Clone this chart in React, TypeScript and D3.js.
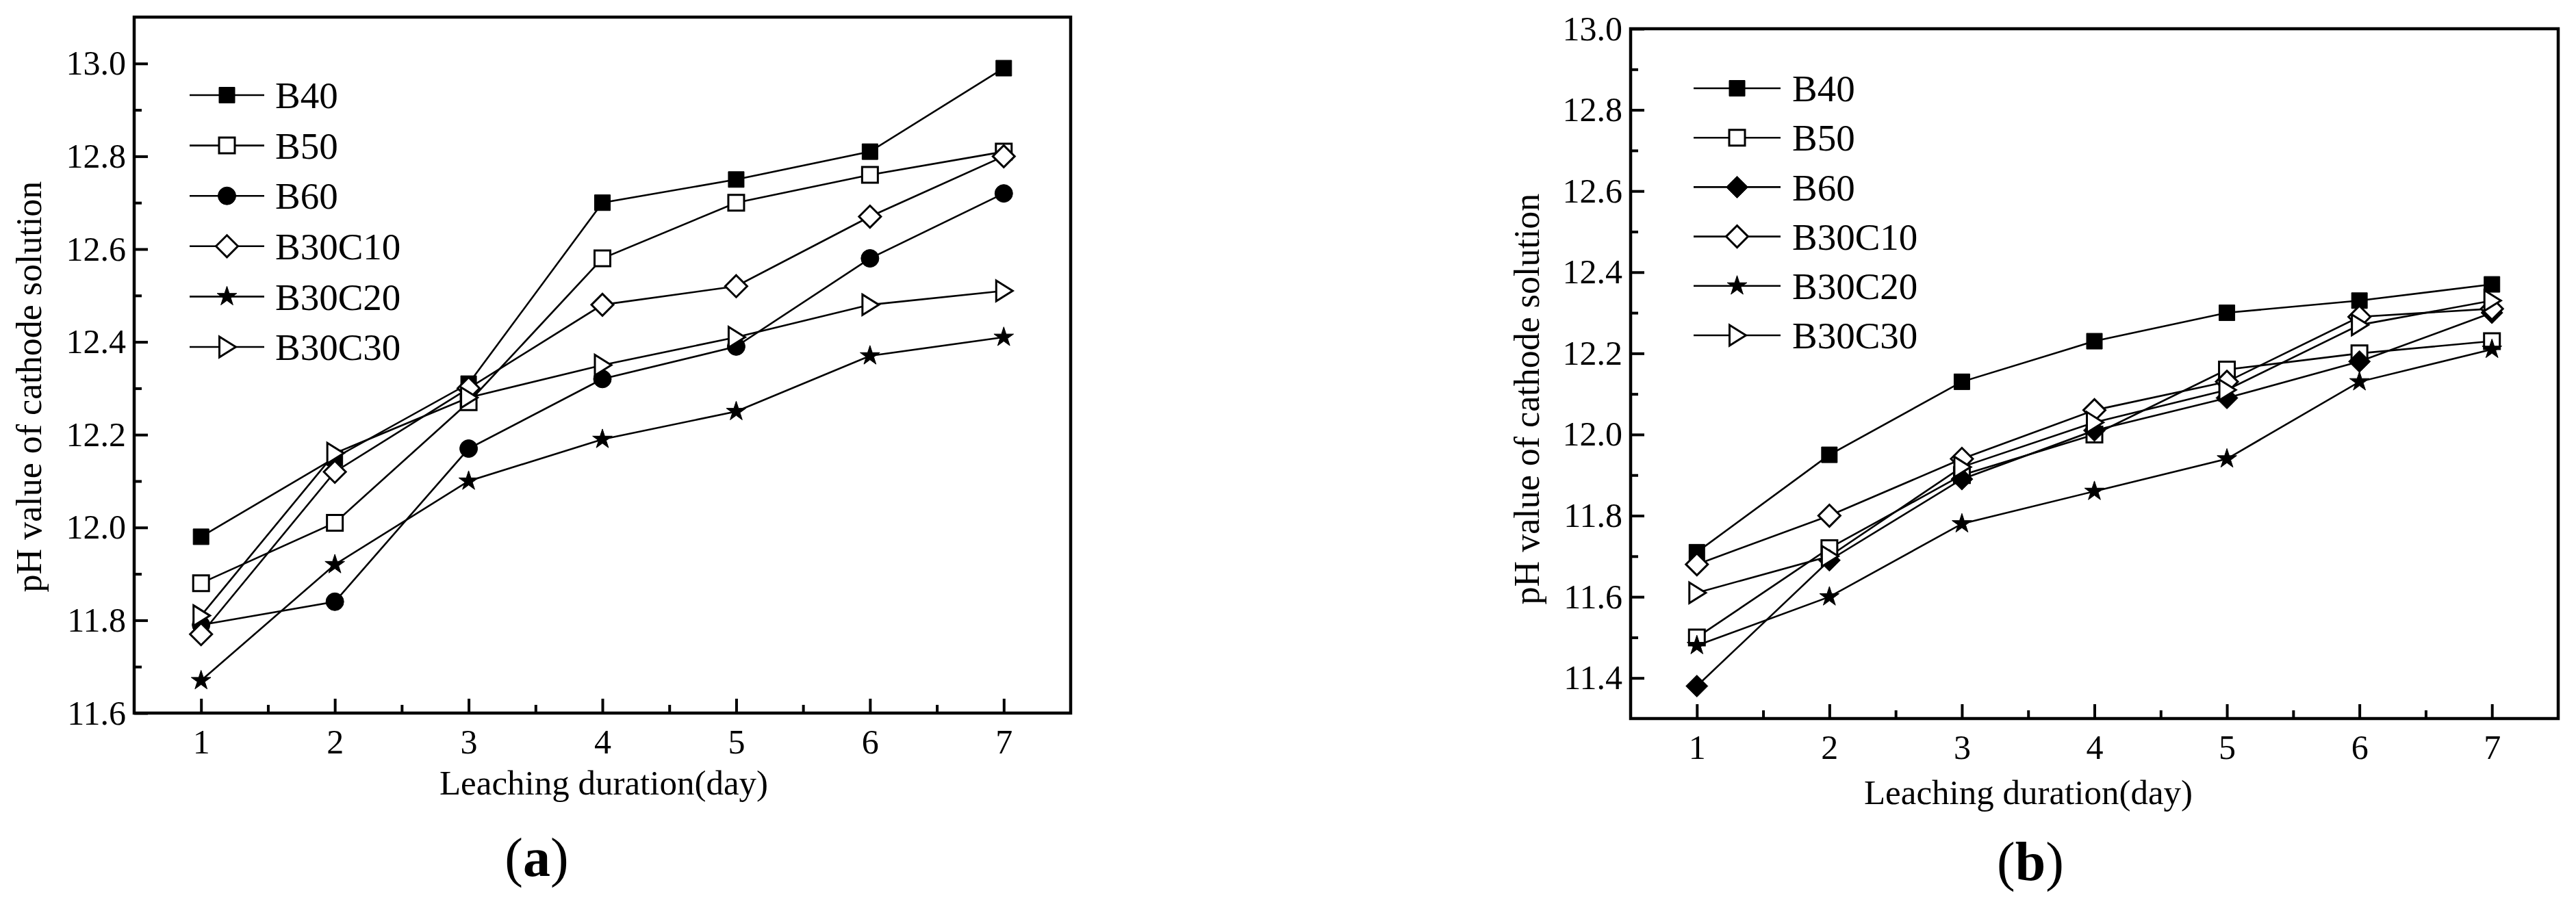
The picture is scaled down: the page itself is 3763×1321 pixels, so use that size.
import React, { useEffect, useRef } from 'react';
import * as d3 from 'd3';

// ---- data ----
const days = [1, 2, 3, 4, 5, 6, 7];
const seriesNames = ['B40', 'B50', 'B60', 'B30C10', 'B30C20', 'B30C30'];

// panel (a)
const aB40 = [11.98, 12.15, 12.31, 12.70, 12.75, 12.81, 12.99];
const aB50 = [11.88, 12.01, 12.27, 12.58, 12.70, 12.76, 12.81];
const aB60 = [11.79, 11.84, 12.17, 12.32, 12.39, 12.58, 12.72];
const aB30C10 = [11.77, 12.12, 12.30, 12.48, 12.52, 12.67, 12.80];
const aB30C20 = [11.67, 11.92, 12.10, 12.19, 12.25, 12.37, 12.41];
const aB30C30 = [11.81, 12.16, 12.28, 12.35, 12.41, 12.48, 12.51];

// panel (b)
const bB40 = [11.71, 11.95, 12.13, 12.23, 12.30, 12.33, 12.37];
const bB50 = [11.50, 11.72, 11.90, 12.00, 12.16, 12.20, 12.23];
const bB60 = [11.38, 11.69, 11.89, 12.01, 12.09, 12.18, 12.30];
const bB30C10 = [11.68, 11.80, 11.94, 12.06, 12.13, 12.29, 12.31];
const bB30C20 = [11.48, 11.60, 11.78, 11.86, 11.94, 12.13, 12.21];
const bB30C30 = [11.61, 11.70, 11.92, 12.03, 12.11, 12.27, 12.33];

const yTicksA = [11.6, 11.8, 12.0, 12.2, 12.4, 12.6, 12.8, 13.0];
const yMinorA = [11.7, 11.9, 12.1, 12.3, 12.5, 12.7, 12.9];
const yTicksB = [11.4, 11.6, 11.8, 12.0, 12.2, 12.4, 12.6, 12.8, 13.0];
const yMinorB = [11.5, 11.7, 11.9, 12.1, 12.3, 12.5, 12.7, 12.9];
const xMinor = [1.5, 2.5, 3.5, 4.5, 5.5, 6.5];

const FONT = '"Liberation Serif", "Times New Roman", serif';

// marker shapes, centred on 0,0
const markerPath = (kind: string) => {
  switch (kind) {
    case 'square':
    case 'squareOpen':
      return d3.symbol(d3.symbolSquare, 23 * 23)();
    case 'circle':
      return d3.symbol(d3.symbolCircle, Math.PI * 13 * 13)();
    case 'diamond':
    case 'diamondOpen':
      return 'M0,-16L16,0L0,16L-16,0Z';
    case 'star':
      return d3.symbol(d3.symbolStar, 255)();
    default:
      return 'M-11,-15L13,0L-11,15Z';
  }
};
const isOpen = (kind: string) => kind.endsWith('Open');

const Panel = ({ svgRef, cfg }) => {
  useEffect(() => {
    const g = d3.select(svgRef.current).append('g');

    const x = d3.scaleLinear().domain([0.5, 7.5]).range([cfg.left, cfg.right]);
    const y = d3.scaleLinear().domain(cfg.yDomain).range([cfg.bottom, cfg.top]);

    // axes, ticks pointing inward
    const yAx = g.append('g').attr('transform', `translate(${cfg.left},0)`)
      .call(d3.axisLeft(y).tickValues(cfg.yTicks).tickSize(-20).tickPadding(12).tickFormat(d3.format('.1f')));
    g.append('g').attr('transform', `translate(${cfg.left},0)`)
      .call(d3.axisLeft(y).tickValues(cfg.yMinor).tickSize(-11).tickFormat(() => ''));
    const xAx = g.append('g').attr('transform', `translate(0,${cfg.bottom})`)
      .call(d3.axisBottom(x).tickValues(days).tickSize(-21).tickPadding(23).tickFormat(d3.format('d')));
    g.append('g').attr('transform', `translate(0,${cfg.bottom})`)
      .call(d3.axisBottom(x).tickValues(xMinor).tickSize(-12).tickFormat(() => ''));

    g.selectAll('.domain').remove();
    g.selectAll('.tick line').attr('stroke', '#000').attr('stroke-width', 4);
    [yAx, xAx].forEach(a => a.selectAll('text')
      .attr('font-family', FONT).attr('font-size', 50).attr('fill', '#000'));

    g.append('rect')
      .attr('x', cfg.left).attr('y', cfg.top)
      .attr('width', cfg.right - cfg.left).attr('height', cfg.bottom - cfg.top)
      .attr('fill', 'none').attr('stroke', '#000').attr('stroke-width', 4.5);

    const line = d3.line<number>().x((d, i) => x(days[i])).y(d => y(d));

    cfg.series.forEach(s => {
      g.append('path').attr('d', line(s.values))
        .attr('fill', 'none').attr('stroke', '#000').attr('stroke-width', 2.6);
    });
    cfg.series.forEach(s => {
      g.append('g').selectAll('path').data(s.values).join('path')
        .attr('transform', (d, i) => `translate(${x(days[i])},${y(d)})`)
        .attr('d', markerPath(s.marker))
        .attr('fill', isOpen(s.marker) ? '#fff' : '#000')
        .attr('stroke', '#000').attr('stroke-width', isOpen(s.marker) ? 3 : 1);
    });

    // legend
    const lg = g.append('g');
    cfg.series.forEach((s, i) => {
      const ly = cfg.legY + i * cfg.legStep;
      lg.append('line').attr('x1', cfg.legX1).attr('x2', cfg.legX2)
        .attr('y1', ly).attr('y2', ly).attr('stroke', '#000').attr('stroke-width', 2.6);
      lg.append('path').attr('d', markerPath(s.marker))
        .attr('transform', `translate(${(cfg.legX1 + cfg.legX2) / 2},${ly})`)
        .attr('fill', isOpen(s.marker) ? '#fff' : '#000')
        .attr('stroke', '#000').attr('stroke-width', isOpen(s.marker) ? 3 : 1);
      lg.append('text').attr('x', cfg.legText).attr('y', ly).attr('dy', '0.35em')
        .attr('font-family', FONT).attr('font-size', 55).text(s.name);
    });

    g.append('text')
      .attr('x', cfg.xTitleX).attr('y', cfg.xTitleY)
      .attr('text-anchor', 'middle').attr('font-family', FONT).attr('font-size', 51)
      .text('Leaching duration(day)');

    g.append('text')
      .attr('transform', `translate(${cfg.yTitleX},${cfg.yTitleY}) rotate(-90)`)
      .attr('text-anchor', 'middle').attr('font-family', FONT).attr('font-size', 52)
      .text('pH value of cathode solution');

    const lab = g.append('text')
      .attr('x', cfg.labX).attr('y', cfg.labY)
      .attr('text-anchor', 'middle').attr('font-family', FONT).attr('font-size', 80);
    lab.append('tspan').text('(');
    lab.append('tspan').attr('font-weight', 'bold').text(cfg.label);
    lab.append('tspan').text(')');

    return () => { g.remove(); };
  }, [cfg]);
  return null;
};

const panelA = {
  left: 196, right: 1564, top: 25, bottom: 1042,
  yDomain: [11.6, 13.1], yTicks: yTicksA, yMinor: yMinorA,
  legX1: 277, legX2: 386, legText: 402, legY: 139, legStep: 73.6,
  xTitleX: 882, xTitleY: 1161, yTitleX: 60, yTitleY: 565,
  labX: 784, labY: 1280, label: 'a',
  series: [
    { name: seriesNames[0], values: aB40, marker: 'square' },
    { name: seriesNames[1], values: aB50, marker: 'squareOpen' },
    { name: seriesNames[2], values: aB60, marker: 'circle' },
    { name: seriesNames[3], values: aB30C10, marker: 'diamondOpen' },
    { name: seriesNames[4], values: aB30C20, marker: 'star' },
    { name: seriesNames[5], values: aB30C30, marker: 'triangleOpen' },
  ],
};

const panelB = {
  left: 2382, right: 3737, top: 42, bottom: 1050,
  yDomain: [11.3, 13.0], yTicks: yTicksB, yMinor: yMinorB,
  legX1: 2474, legX2: 2601, legText: 2618, legY: 129, legStep: 72.2,
  xTitleX: 2963, xTitleY: 1175, yTitleX: 2248, yTitleY: 583,
  labX: 2966, labY: 1286, label: 'b',
  series: [
    { name: seriesNames[0], values: bB40, marker: 'square' },
    { name: seriesNames[1], values: bB50, marker: 'squareOpen' },
    { name: seriesNames[2], values: bB60, marker: 'diamond' },
    { name: seriesNames[3], values: bB30C10, marker: 'diamondOpen' },
    { name: seriesNames[4], values: bB30C20, marker: 'star' },
    { name: seriesNames[5], values: bB30C30, marker: 'triangleOpen' },
  ],
};

export default function App() {
  const ref = useRef<SVGSVGElement>(null);
  return (
    <svg ref={ref} width={3763} height={1321}
      style={{ position: 'absolute', left: 0, top: 0, background: '#fff' }}>
      <rect width={3763} height={1321} fill="#fff" />
      <Panel svgRef={ref} cfg={panelA} />
      <Panel svgRef={ref} cfg={panelB} />
    </svg>
  );
}
